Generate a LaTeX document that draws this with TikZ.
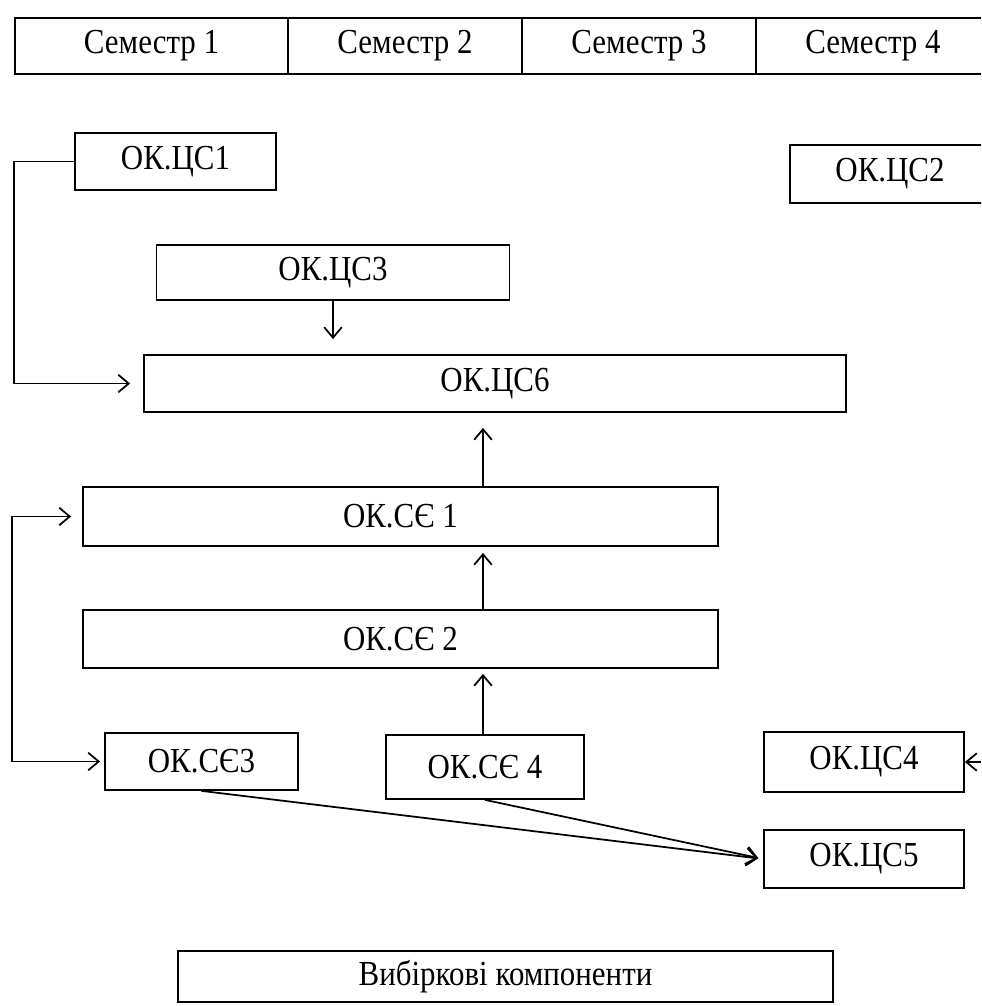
\documentclass[tikz,border=0pt]{standalone}
\usepackage{fontspec}
\setmainfont[FakeStretch=0.88]{Liberation Serif}
\usetikzlibrary{arrows.meta}

\tikzset{
  blk/.style 2 args={draw, line width=1pt, inner sep=0pt,
    minimum width=#1*0.02cm, minimum height=#2*0.02cm},
  conn/.style={line width=1pt, -{Straight Barb[length=6pt,width=10pt]}},
  dconn/.style={line width=1pt, {Straight Barb[length=6pt,width=10pt]}-{Straight Barb[length=6pt,width=10pt]}},
}

\begin{document}
\begin{tikzpicture}[x=0.02cm, y=-0.02cm, font=\fontsize{20}{23}\selectfont]

  \clip (0,0) rectangle (981,1006);

  % semesters
  \foreach \i/\x/\w in {1/151.5/273, 2/405/234, 3/639/234, 4/873/234}
    \node[blk={\w}{56}] (sem\i) at (\x,46) {Семестр \i};

  \node[blk={201}{57}] (cs1) at (175.5,161.5) {ОК.ЦС1};
  \node[blk={200}{58}] (cs2) at (890,174) {ОК.ЦС2};
  \node[blk={353}{55}] (cs3) at (333,272.5) {ОК.ЦС3};
  \node[blk={702}{57}] (cs6) at (495,383.5) {ОК.ЦС6};

  \node[blk={635}{59}] (se1) at (400.5,516.5) {ОК.СЄ 1};
  \node[blk={635}{58}] (se2) at (400.5,639) {ОК.СЄ 2};
  \node[blk={193}{57}] (se3) at (201.5,761.5) {ОК.СЄ3};
  \node[blk={198}{64}] (se4) at (485,767) {ОК.СЄ 4};

  \node[blk={200}{60}] (cs4) at (864,762) {ОК.ЦС4};
  \node[blk={200}{58}] (cs5) at (864,859) {ОК.ЦС5};

  \node[blk={655}{51}] (vk) at (505.5,976.5) {Вибіркові компоненти};

  \coordinate (mid) at (483,0);
  \coordinate (rstub) at (981,762);

  \draw[conn, shorten >=0.26cm] (cs1.west) -- ++(-60,0) |- (cs6.west);
  \draw[conn, shorten >=0.3cm] (cs3.south) -- (cs3 |- cs6.north);
  \draw[conn, shorten >=0.3cm] (se1.north -| mid) -- (cs6.south -| mid);
  \draw[conn, shorten >=0.12cm] (se2.north -| mid) -- (se1.south -| mid);
  \draw[conn, shorten >=0.1cm] (se4.north -| mid) -- (se2.south -| mid);
  \draw[dconn, shorten <=0.22cm, shorten >=0.08cm] (se1.west) -- ++(-70,0) |- (se3.west);
  \draw[conn, shorten >=0.1cm] (se3.south) -- (cs5.west);
  \draw[conn, shorten >=0.1cm] (se4.south) -- (cs5.west);
  \draw[conn] (rstub) -- (cs4.east);
\end{tikzpicture}
\end{document}
